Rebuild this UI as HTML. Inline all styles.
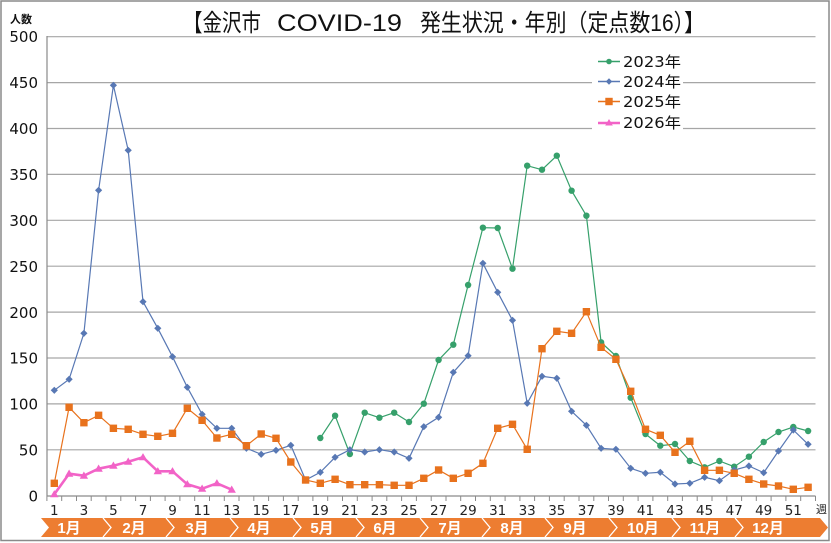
<!DOCTYPE html>
<html><head><meta charset="utf-8"><style>
html,body{margin:0;padding:0;background:#fff;}
svg{display:block;}
</style></head><body>
<svg width="831" height="543" viewBox="0 0 831 543" xmlns="http://www.w3.org/2000/svg">
<defs>
<marker id="mD" markerUnits="userSpaceOnUse" markerWidth="10" markerHeight="10" refX="5" refY="5" overflow="visible"><polygon points="5,1.4 8.6,5 5,8.6 1.4,5" fill="#5878B4"/></marker>
<marker id="mC" markerUnits="userSpaceOnUse" markerWidth="10" markerHeight="10" refX="5" refY="5" overflow="visible"><circle cx="5" cy="5" r="3.2" fill="#36A06B"/></marker>
<marker id="mS" markerUnits="userSpaceOnUse" markerWidth="10" markerHeight="10" refX="5" refY="5" overflow="visible"><rect x="1.3" y="1.3" width="7.4" height="7.4" fill="#E8721D"/></marker>
<marker id="mT" markerUnits="userSpaceOnUse" markerWidth="10" markerHeight="10" refX="5" refY="5" overflow="visible"><polygon points="5,0.8 9.2,8 0.8,8" fill="#F263C7"/></marker>
</defs>
<rect x="0" y="0" width="831" height="543" fill="#fff"/>
<rect x="1" y="1" width="828" height="539.5" fill="#fff" stroke="#8a8a8a" stroke-width="1.5"/>

<!-- title -->
<g font-family="'Liberation Sans','Noto Sans CJK JP',sans-serif" font-size="24" fill="#111">
<text x="183" y="31" textLength="78" lengthAdjust="spacingAndGlyphs">【金沢市</text>
<text x="277" y="31" textLength="125" lengthAdjust="spacingAndGlyphs">COVID-19</text>
<text x="420" y="31" textLength="285" lengthAdjust="spacingAndGlyphs">発生状況・年別（定点数16）】</text>
</g>

<!-- gridlines -->
<g stroke="#a6a6a6" stroke-width="1.2">
<line x1="47" y1="36.7" x2="815.5" y2="36.7"/>
<line x1="47" y1="82.6" x2="815.5" y2="82.6"/>
<line x1="47" y1="128.5" x2="815.5" y2="128.5"/>
<line x1="47" y1="174.4" x2="815.5" y2="174.4"/>
<line x1="47" y1="220.3" x2="815.5" y2="220.3"/>
<line x1="47" y1="266.2" x2="815.5" y2="266.2"/>
<line x1="47" y1="312.1" x2="815.5" y2="312.1"/>
<line x1="47" y1="358.0" x2="815.5" y2="358.0"/>
<line x1="47" y1="403.9" x2="815.5" y2="403.9"/>
<line x1="47" y1="449.8" x2="815.5" y2="449.8"/>
</g>
<!-- axes -->
<line x1="47" y1="36" x2="47" y2="496" stroke="#8a8a8a" stroke-width="1.2"/>
<line x1="47" y1="496" x2="815.5" y2="496" stroke="#8a8a8a" stroke-width="1.2"/>
<g stroke="#8a8a8a" stroke-width="1">
<path d="M46.9 496v5M61.7 496v5M76.5 496v5M91.2 496v5M106.0 496v5M120.8 496v5M135.6 496v5M150.4 496v5M165.1 496v5M179.9 496v5M194.7 496v5M209.5 496v5M224.3 496v5M239.0 496v5M253.8 496v5M268.6 496v5M283.4 496v5M298.2 496v5M312.9 496v5M327.7 496v5M342.5 496v5M357.3 496v5M372.1 496v5M386.8 496v5M401.6 496v5M416.4 496v5M431.2 496v5M446.0 496v5M460.7 496v5M475.5 496v5M490.3 496v5M505.1 496v5M519.9 496v5M534.6 496v5M549.4 496v5M564.2 496v5M579.0 496v5M593.8 496v5M608.5 496v5M623.3 496v5M638.1 496v5M652.9 496v5M667.7 496v5M682.4 496v5M697.2 496v5M712.0 496v5M726.8 496v5M741.6 496v5M756.3 496v5M771.1 496v5M785.9 496v5M800.7 496v5M815.5 496v5"/>
</g>

<!-- y labels -->
<g font-family="'DejaVu Sans',sans-serif" font-size="15" fill="#111" text-anchor="end">
<text x="38" y="42">500</text>
<text x="38" y="88">450</text>
<text x="38" y="134">400</text>
<text x="38" y="180">350</text>
<text x="38" y="226">300</text>
<text x="38" y="272">250</text>
<text x="38" y="318">200</text>
<text x="38" y="363.5">150</text>
<text x="38" y="409.5">100</text>
<text x="38" y="455.5">50</text>
<text x="38" y="501.5">0</text>
</g>
<text x="10" y="23" font-family="'Liberation Sans','Noto Sans CJK JP',sans-serif" font-size="11" font-weight="bold" fill="#111">人数</text>

<!-- x labels -->
<g font-family="'DejaVu Sans',sans-serif" font-size="13.5" fill="#222" text-anchor="middle">
<text x="54.3" y="515">1</text><text x="83.9" y="515">3</text><text x="113.4" y="515">5</text><text x="143.0" y="515">7</text><text x="172.5" y="515">9</text><text x="202.1" y="515">11</text><text x="231.7" y="515">13</text><text x="261.2" y="515">15</text><text x="290.8" y="515">17</text><text x="320.3" y="515">19</text><text x="349.9" y="515">21</text><text x="379.4" y="515">23</text><text x="409.0" y="515">25</text><text x="438.6" y="515">27</text><text x="468.1" y="515">29</text><text x="497.7" y="515">31</text><text x="527.2" y="515">33</text><text x="556.8" y="515">35</text><text x="586.4" y="515">37</text><text x="615.9" y="515">39</text><text x="645.5" y="515">41</text><text x="675.0" y="515">43</text><text x="704.6" y="515">45</text><text x="734.2" y="515">47</text><text x="763.7" y="515">49</text><text x="793.3" y="515">51</text>
</g>
<text x="816" y="513" font-family="'Liberation Sans','Noto Sans CJK JP',sans-serif" font-size="11" fill="#222">週</text>

<!-- month band -->
<polygon points="41,518 820,518 828,527.5 820,537 41,537 49,527.5" fill="#ED7D31"/>
<g fill="none" stroke="#fff" stroke-width="1.3">
<polyline points="103,518 111,527.5 103,537"/>
<polyline points="166,518 174,527.5 166,537"/>
<polyline points="230,518 238,527.5 230,537"/>
<polyline points="293,518 301,527.5 293,537"/>
<polyline points="356,518 364,527.5 356,537"/>
<polyline points="420,518 428,527.5 420,537"/>
<polyline points="482,518 490,527.5 482,537"/>
<polyline points="545,518 553,527.5 545,537"/>
<polyline points="609,518 617,527.5 609,537"/>
<polyline points="672,518 680,527.5 672,537"/>
<polyline points="735,518 743,527.5 735,537"/>
</g>
<g font-family="'Liberation Sans','Noto Sans CJK JP',sans-serif" font-size="15" font-weight="bold" fill="#fff" text-anchor="middle">
<text x="69" y="533">1月</text><text x="134" y="533">2月</text><text x="197" y="533">3月</text><text x="259" y="533">4月</text><text x="322" y="533">5月</text><text x="385" y="533">6月</text><text x="450" y="533">7月</text><text x="512" y="533">8月</text><text x="575" y="533">9月</text><text x="643" y="533">10月</text><text x="705" y="533">11月</text><text x="768" y="533">12月</text>
</g>

<!-- series -->
<polyline fill="none" stroke="#36A06B" stroke-width="1.2" marker-start="url(#mC)" marker-mid="url(#mC)" marker-end="url(#mC)" points="320.3,438 335.1,415.7 349.9,454 364.7,412.7 379.4,417.7 394.2,412.7 409.0,422 423.8,403.7 438.6,360 453.3,344.7 468.1,285 482.9,227.7 497.7,228 512.5,268.7 527.2,165.7 542.0,169.7 556.8,155.7 571.6,190.7 586.4,215.7 601.1,342.3 615.9,356 630.7,397.7 645.5,434 660.3,445.7 675.0,444 689.8,461 704.6,467.3 719.4,461 734.2,466.7 748.9,456.7 763.7,442 778.5,432 793.3,427 808.1,431"/>
<polyline fill="none" stroke="#5878B4" stroke-width="1.2" marker-start="url(#mD)" marker-mid="url(#mD)" marker-end="url(#mD)" points="54.3,390.3 69.1,379.3 83.9,333.3 98.6,190.3 113.4,85.3 128.2,150.3 143.0,301.7 157.8,328.3 172.5,356.7 187.3,387.3 202.1,414.3 216.9,428.3 231.7,428.3 246.4,448.3 261.2,454.3 276.0,450.3 290.8,445.3 305.6,480 320.3,472.3 335.1,457.3 349.9,449.7 364.7,452 379.4,449.7 394.2,452 409.0,458.3 423.8,426.7 438.6,417.3 453.3,372.3 468.1,355.7 482.9,263.3 497.7,292.3 512.5,320.3 527.2,403.3 542.0,376.3 556.8,378.3 571.6,411.3 586.4,425.3 601.1,448.3 615.9,449.3 630.7,468.3 645.5,473.3 660.3,472.3 675.0,484 689.8,483.3 704.6,477.3 719.4,480.7 734.2,470 748.9,466 763.7,472.7 778.5,451 793.3,430 808.1,444.3"/>
<polyline fill="none" stroke="#E8721D" stroke-width="1.2" marker-start="url(#mS)" marker-mid="url(#mS)" marker-end="url(#mS)" points="54.3,483.3 69.1,407.3 83.9,422.7 98.6,415.3 113.4,428.3 128.2,429.3 143.0,434.3 157.8,436.3 172.5,433.3 187.3,408.3 202.1,420.3 216.9,438 231.7,434.3 246.4,445.7 261.2,434 276.0,438.3 290.8,462 305.6,480 320.3,483.3 335.1,479.3 349.9,484.7 364.7,484.7 379.4,484.7 394.2,485.3 409.0,485.3 423.8,478.3 438.6,470 453.3,478.3 468.1,473.3 482.9,463.3 497.7,428.3 512.5,424.3 527.2,449.3 542.0,348.7 556.8,331.3 571.6,333.3 586.4,311.7 601.1,347.3 615.9,359.3 630.7,391.3 645.5,429.3 660.3,435.3 675.0,452.3 689.8,441.3 704.6,470.3 719.4,470.3 734.2,473.3 748.9,479.3 763.7,484 778.5,486 793.3,489.3 808.1,487.3"/>
<polyline fill="none" stroke="#F263C7" stroke-width="2.6" stroke-linejoin="round" marker-start="url(#mT)" marker-mid="url(#mT)" marker-end="url(#mT)" points="54.3,494.3 69.1,473.7 83.9,475.7 98.6,468.7 113.4,465.7 128.2,461.7 143.0,457.3 157.8,471.3 172.5,471.3 187.3,484.3 202.1,488.7 216.9,483.3 231.7,489.7"/>

<!-- legend -->
<rect x="592" y="50" width="91" height="84" fill="#fff"/>
<g stroke-width="1.5">
<line x1="598" y1="61.5" x2="620" y2="61.5" stroke="#36A06B"/>
<line x1="598" y1="81.5" x2="620" y2="81.5" stroke="#5878B4"/>
<line x1="598" y1="101.5" x2="620" y2="101.5" stroke="#E8721D"/>
<line x1="598" y1="123" x2="620" y2="123" stroke="#F263C7" stroke-width="2.5"/>
</g>
<circle cx="609" cy="61.5" r="2.8" fill="#36A06B"/>
<polygon points="609,78.3 612.2,81.5 609,84.7 605.8,81.5" fill="#5878B4"/>
<rect x="605.3" y="97.8" width="7.4" height="7.4" fill="#E8721D"/>
<polygon points="609,119 612.8,125.5 605.2,125.5" fill="#F263C7"/>
<g font-family="'DejaVu Sans','Noto Sans CJK JP',sans-serif" font-size="15" fill="#111">
<text x="623" y="67" textLength="58" lengthAdjust="spacingAndGlyphs">2023年</text>
<text x="623" y="87" textLength="58" lengthAdjust="spacingAndGlyphs">2024年</text>
<text x="623" y="107" textLength="58" lengthAdjust="spacingAndGlyphs">2025年</text>
<text x="623" y="128" textLength="58" lengthAdjust="spacingAndGlyphs">2026年</text>
</g>
</svg>
</body></html>
